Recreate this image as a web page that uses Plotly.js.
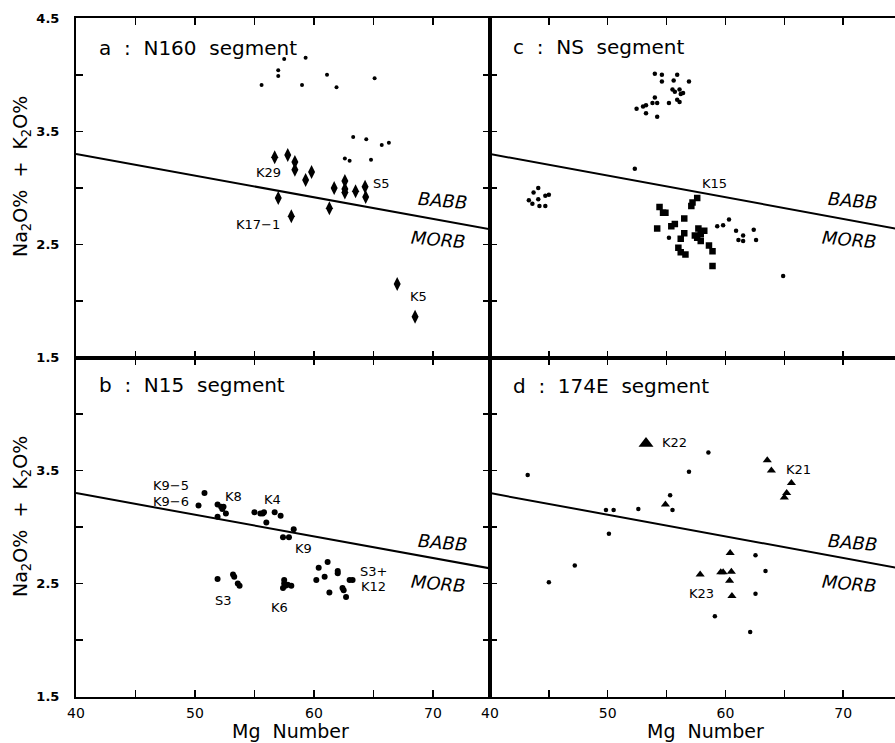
<!DOCTYPE html>
<html><head><meta charset="utf-8">
<script src="https://cdn.plot.ly/plotly-3.0.1.min.js"></script>
<style>html,body{margin:0;padding:0;background:#fff}</style>
</head><body><div id="chart" style="width:895px;height:743px"></div>
<script>
// ---- discriminant line (BABB / MORB) ----
const lineX = [40, 75];
const lineY = [3.30, 2.63];

// ---- panel a : N160 segment ----
const aDotX = [55.6,57.0,57.0,57.5,59.0,59.3,61.1,61.9,65.1,63.3,64.4,65.7,66.3,62.6,63.0,64.8];
const aDotY = [3.91,4.04,3.99,4.14,3.91,4.15,4.00,3.89,3.97,3.45,3.43,3.38,3.40,3.26,3.24,3.25];
const aDiaX = [56.7,57.8,58.4,58.4,59.8,59.3,57.0,58.1,61.3,61.7,62.6,62.6,62.6,63.5,64.3,64.35,67.0,68.5];
const aDiaY = [3.27,3.29,3.23,3.16,3.14,3.07,2.91,2.75,2.82,3.00,3.06,2.99,2.96,2.97,3.01,2.92,2.15,1.86];

// ---- panel c : NS segment ----
const cDotX = [54.0,54.6,54.6,55.9,55.6,56.9,55.5,55.7,56.1,56.4,56.2,55.9,56.1,54.0,53.8,54.2,55.2,53.25,53.0,52.45,53.25,54.2,
               52.3,
               44.1,43.7,45.0,44.7,44.1,43.3,43.6,44.2,44.7,
               60.3,59.3,59.8,60.9,62.4,55.2,61.5,61.5,61.1,62.6,64.9];
const cDotY = [4.01,4.00,3.94,4.00,3.95,3.94,3.87,3.85,3.87,3.84,3.83,3.78,3.76,3.80,3.75,3.75,3.75,3.73,3.72,3.70,3.66,3.63,
               3.17,
               3.00,2.96,2.94,2.93,2.90,2.89,2.86,2.84,2.84,
               2.72,2.66,2.67,2.62,2.63,2.56,2.58,2.53,2.54,2.54,2.22];
const cSqX = [57.6,57.2,57.1,54.4,54.7,54.9,56.5,55.7,55.4,54.2,57.7,58.2,56.5,57.4,57.9,57.6,56.2,57.9,56.0,58.6,58.9,56.2,56.6,58.9];
const cSqY = [2.91,2.87,2.84,2.83,2.78,2.78,2.73,2.68,2.66,2.64,2.64,2.62,2.60,2.58,2.59,2.56,2.55,2.53,2.47,2.49,2.44,2.43,2.41,2.31];

// ---- panel b : N15 segment ----
const bDotX = [50.8,50.3,51.9,52.2,52.4,52.3,52.6,51.9,55.0,55.5,55.7,55.8,56.7,57.2,56.0,57.4,57.9,58.3,
               51.9,53.2,53.3,53.6,53.75,57.5,57.6,57.4,57.8,58.1,57.5,
               60.4,61.15,60.2,60.9,62.0,62.0,63.0,63.25,61.3,62.4,62.5,62.7];
const bDotY = [3.30,3.19,3.20,3.18,3.18,3.16,3.12,3.09,3.13,3.12,3.12,3.13,3.13,3.10,3.04,2.91,2.91,2.98,
               2.54,2.58,2.56,2.50,2.48,2.53,2.48,2.46,2.49,2.48,2.50,
               2.64,2.69,2.53,2.56,2.61,2.59,2.53,2.53,2.42,2.46,2.44,2.38];

// ---- panel d : 174E segment ----
const dDotX = [43.2,49.85,50.5,52.6,55.3,55.5,50.1,47.2,45.0,58.55,56.9,62.55,63.4,62.55,59.1,62.1];
const dDotY = [3.46,3.15,3.15,3.16,3.28,3.15,2.94,2.66,2.51,3.66,3.49,2.75,2.61,2.41,2.21,2.07];
const dTriX = [54.9,63.55,63.9,65.6,65.2,65.0,60.4,57.85,59.6,59.8,60.5,60.35,60.55];
const dTriY = [3.20,3.59,3.50,3.39,3.30,3.26,2.77,2.58,2.60,2.60,2.605,2.525,2.39];
const dBigTriX = [53.25];
const dBigTriY = [3.74];

// ---- tick labels ----
const xTickVals = [40,45,50,55,60,65,70];
const xTickText = ['40','','50','','60','','70'];
const yTickVals = [1.5,2,2.5,3,3.5,4,4.5];
const yTickTextTop = ['1.5','','2.5','','3.5','','4.5'];
const yTickTextBot = ['1.5','','2.5','','3.5','',''];

const FONT = 'DejaVu Sans, Liberation Sans, Arial, sans-serif';
const BLACK = '#000';

function lineTrace(xa, ya){
  return {x: lineX, y: lineY, xaxis: xa, yaxis: ya, mode: 'lines', line: {color: BLACK, width: 2}, hoverinfo: 'skip'};
}
function pts(x, y, xa, ya, symbol, size){
  return {x: x, y: y, xaxis: xa, yaxis: ya, mode: 'markers', marker: {symbol: symbol, size: size, color: BLACK, line: {width: 0}}};
}

const traces = [
  lineTrace('x','y'), pts(aDotX, aDotY, 'x','y','circle',4), pts(aDiaX, aDiaY, 'x','y','diamond-tall',10),
  lineTrace('x2','y2'), pts(cDotX, cDotY, 'x2','y2','circle',4.5), pts(cSqX, cSqY, 'x2','y2','square',6.5),
  lineTrace('x3','y3'), pts(bDotX, bDotY, 'x3','y3','circle',6),
  lineTrace('x4','y4'), pts(dDotX, dDotY, 'x4','y4','circle',4.5), pts(dTriX, dTriY, 'x4','y4','triangle-up',8),
  pts(dBigTriX, dBigTriY, 'x4','y4','triangle-up',13)
];

const W = 895, H = 743;
const xL = [76/W, 490/W], xR = [490/W, 1];
const yT = [1-357.5/H, 1-18.3/H], yB = [1-696.5/H, 1-357.5/H];

function xax(dom, range, anchor, labels){
  return {domain: dom, range: range, anchor: anchor, tickvals: xTickVals, ticktext: xTickText,
    showticklabels: labels, ticks: 'inside', ticklen: 7, tickwidth: 1.5, tickcolor: BLACK,
    showline: true, linewidth: 2, linecolor: BLACK, mirror: 'ticks', showgrid: false, zeroline: false,
    tickfont: {family: FONT, size: 14, color: BLACK}, ticklabelstandoff: 3, fixedrange: true};
}
function yax(dom, anchor, labels, text, mirror){
  return {domain: dom, range: [1.5, 4.5], anchor: anchor, tickvals: yTickVals, ticktext: text,
    showticklabels: labels, ticks: 'inside', ticklen: 7, tickwidth: 1.5, tickcolor: BLACK,
    showline: true, linewidth: 2, linecolor: BLACK, mirror: mirror, showgrid: false, zeroline: false,
    tickfont: {family: FONT, size: 13, color: BLACK, weight: 'bold'}, ticklabelstandoff: 12, fixedrange: true};
}

const ann = [];
function lab(xr, yr, x, y, text, size, extra){
  ann.push(Object.assign({xref: xr, yref: yr, x: x, y: y, text: text, showarrow: false,
    xanchor: 'center', yanchor: 'middle',
    font: {family: FONT, size: size, color: BLACK}}, extra || {}));
}
function panelTitle(xr, yr, y, text){ lab(xr, yr, 41.8, y, text, 20, {xanchor: 'left'}); }
function zones(xr, yr, yb, ym){
  lab(xr, yr, 70.8, yb, 'BABB', 18, {textangle: 5, font: {family: FONT, size: 18, color: BLACK, style: 'italic'}});
  lab(xr, yr, 70.5, ym, 'MORB', 18, {textangle: 5, font: {family: FONT, size: 18, color: BLACK, style: 'italic'}});
}

// panel a
panelTitle('x','y', 4.24, 'a  :  N160  segment');
lab('x','y',56.2,3.14,'K29',13); lab('x','y',55.3,2.675,'K17\u22121',13);
lab('x','y',65.7,3.04,'S5',13); lab('x','y',68.8,2.04,'K5',13);
zones('x','y',2.89,2.54);
// panel c
panelTitle('x2','y2', 4.25, 'c  :  NS  segment');
lab('x2','y2',59.06,3.04,'K15',13);
zones('x2','y2',2.89,2.54);
// panel b
panelTitle('x3','y3', 4.26, 'b  :  N15  segment');
lab('x3','y3',48.0,3.37,'K9\u22125',13); lab('x3','y3',48.0,3.23,'K9\u22126',13);
lab('x3','y3',53.25,3.27,'K8',13); lab('x3','y3',56.5,3.24,'K4',13);
lab('x3','y3',59.1,2.81,'K9',13); lab('x3','y3',65.0,2.61,'S3+',13);
lab('x3','y3',65.0,2.47,'K12',13); lab('x3','y3',52.4,2.35,'S3',13);
lab('x3','y3',57.1,2.29,'K6',13);
zones('x3','y3',2.86,2.50);
// panel d
panelTitle('x4','y4', 4.25, 'd  :  174E  segment');
lab('x4','y4',55.66,3.75,'K22',13); lab('x4','y4',66.2,3.51,'K21',13);
lab('x4','y4',58.0,2.41,'K23',13);
zones('x4','y4',2.86,2.50);

// axis titles
const ytitle = 'Na<sub>2</sub>O%  +  K<sub>2</sub>O%';
lab('paper','paper', 21/W, 1-177/H, ytitle, 19, {textangle: -90});
lab('paper','paper', 21/W, 1-517/H, ytitle, 19, {textangle: -90});
lab('paper','paper', 290/W, 1-731/H, 'Mg  Number', 19);
lab('paper','paper', 705/W, 1-731/H, 'Mg  Number', 19);

const layout = {
  width: W, height: H, margin: {l: 0, r: 0, t: 0, b: 0},
  paper_bgcolor: '#fff', plot_bgcolor: '#fff', showlegend: false,
  font: {family: FONT, color: BLACK},
  xaxis: xax(xL, [40, 74.8], 'y', false),
  yaxis: yax(yT, 'x', true, yTickTextTop, 'ticks'),
  xaxis2: xax(xR, [40, 74.4], 'y2', false),
  yaxis2: yax(yT, 'x2', false, yTickTextTop, false),
  xaxis3: xax(xL, [40, 74.8], 'y3', true),
  yaxis3: yax(yB, 'x3', true, yTickTextBot, 'ticks'),
  xaxis4: xax(xR, [40, 74.4], 'y4', true),
  yaxis4: yax(yB, 'x4', false, yTickTextBot, false),
  annotations: ann
};

Plotly.newPlot('chart', traces, layout, {staticPlot: true, displayModeBar: false});
</script>
</body></html>
